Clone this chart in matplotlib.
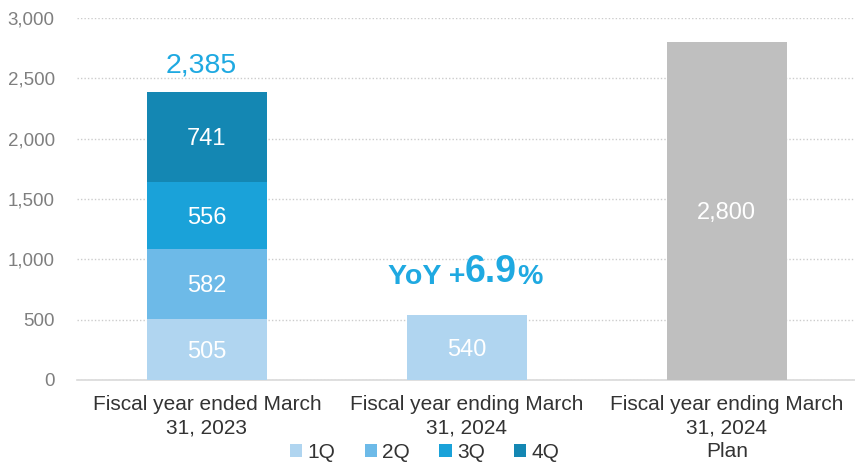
import numpy as np
import matplotlib.pyplot as plt

plt.rcParams['font.family'] = ['Liberation Sans', 'DejaVu Sans']

# quarterly values (first two bars) and the plan bar
categories = ["Fiscal year ended March\n31, 2023",
              "Fiscal year ending March\n31, 2024",
              "Fiscal year ending March\n31, 2024\nPlan"]
q1 = [505, 540]
q2 = [582]
q3 = [556]
q4 = [741]
plan = 2800
total_fy23 = 2385
yoy_pct = 6.9

quarter_names = ["1Q", "2Q", "3Q", "4Q"]
quarter_colors = ["#B0D5F0", "#6DBAE8", "#1AA2D9", "#1487B3"]
plan_color = "#BFBFBF"
accent = "#1FA9E1"

fig = plt.figure(figsize=(8.55, 4.62), dpi=100)
ax = fig.add_axes([0.09, 0.1775, 0.912, 0.7835])

w = 0.46
x = np.arange(3)


def inside_label(xpos, ypos, val):
    # white number, digits vertically centred on the segment
    ax.annotate(f"{val:,}", xy=(xpos, ypos), xytext=(0, -6), textcoords="offset points",
                ha="center", va="baseline", color="white", fontsize=17, zorder=4)


# stacked bar for FY2023
bottom = 0
for vals, col, name in zip([q1, q2, q3, q4], quarter_colors, quarter_names):
    ax.bar(x[0], vals[0], w, bottom=bottom, color=col, label=name, zorder=3)
    inside_label(x[0], bottom + vals[0] / 2, vals[0])
    bottom += vals[0]

# FY2024 1Q only
ax.bar(x[1], q1[1], w, color=quarter_colors[0], zorder=3)
inside_label(x[1], q1[1] / 2, q1[1])

# plan
ax.bar(x[2], plan, w, color=plan_color, zorder=3)
inside_label(x[2], plan / 2, plan)

ax.text(x[0] - 0.023, total_fy23 + 110, f"{total_fy23:,}", ha="center", va="bottom",
        color=accent, fontsize=20.5)

# YoY callout built from pieces with different sizes
t1 = ax.text(x[1] - 0.305, 795, "YoY +", ha="left", va="baseline",
             color=accent, fontsize=20.5, fontweight="bold")
t2 = ax.annotate(f"{yoy_pct}", xy=(1, 0), xycoords=t1, ha="left", va="bottom",
                 color=accent, fontsize=27, fontweight="bold")
ax.annotate("%", xy=(1, 0), xycoords=t2, ha="left", va="bottom",
            color=accent, fontsize=20.5, fontweight="bold")

ax.set_xlim(-0.5, 2.5)
ax.set_ylim(0, 3000)
ax.set_yticks(np.arange(0, 3001, 500))
ax.yaxis.set_major_formatter(plt.FuncFormatter(lambda v, p: f"{int(v):,}"))
ax.set_xticks(x)
ax.set_xticklabels(categories, fontsize=15, color="#333333", linespacing=1.3)
ax.tick_params(axis="y", labelsize=13.5, labelcolor="#7F7F7F", length=0, pad=16)
ax.tick_params(axis="x", length=0, pad=11)

ax.grid(axis="y", linestyle=(0, (1, 1.5)), color="#CCCCCC", linewidth=1, zorder=0)
for s in ["top", "right", "left"]:
    ax.spines[s].set_visible(False)
ax.spines["bottom"].set_color("#D9D9D9")
ax.spines["bottom"].set_linewidth(1.2)

ax.legend(loc="center", bbox_to_anchor=(0.446, -0.2), ncol=4, frameon=False,
          fontsize=15, handlelength=0.6, handleheight=0.6, handletextpad=0.25,
          columnspacing=1.4, labelcolor="#333333")

fig.savefig("out.png", dpi=100)
